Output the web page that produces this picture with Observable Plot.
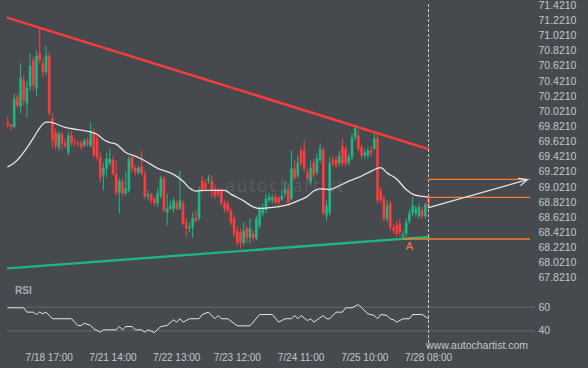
<!DOCTYPE html>
<html>
<head>
<meta charset="utf-8">
<script src="https://cdn.jsdelivr.net/npm/d3@7"></script>
<script src="https://cdn.jsdelivr.net/npm/@observablehq/plot@0.6"></script>
<style>
  html, body { margin: 0; padding: 0; background: #464a4f; }
  #wrap { position: relative; width: 588px; height: 368px; background: #464a4f; overflow: hidden;
          font-family: "Liberation Sans", Arial, sans-serif; }
  #price, #rsi { position: absolute; left: 0; }
  #price { top: 0; }
  #rsi { top: 290px; }
  .ov { position: absolute; white-space: nowrap; line-height: 12px; }
</style>
</head>
<body>
<div id="wrap">
  <div id="price"></div>
  <div id="rsi"></div>
  <div class="ov" style="left:15px;top:285px;font-size:10px;font-weight:bold;color:#a9acb0;">RSI</div>
  <div class="ov" style="left:426px;top:339px;font-size:10.5px;color:#c4c6c9;">www.autochartist.com</div>
</div>
<script>
// ---- data ----
const opens = [69.87,69.84,69.81,70.21,70.08,70.42,70.12,70.34,70.69,70.32,
70.78,70.65,70.53,70.75,69.92,69.74,69.54,69.72,69.60,69.47,
69.70,69.61,69.60,69.60,69.56,69.63,69.56,69.72,69.66,69.41,
69.17,69.26,69.33,69.37,69.19,68.94,69.08,68.93,68.97,69.41,
69.27,69.21,69.29,69.18,68.89,68.92,68.86,68.80,68.90,69.13,
68.68,68.73,68.73,68.81,68.73,68.80,68.55,68.47,68.48,68.61,
68.60,69.10,69.07,69.10,69.10,69.00,68.97,68.97,68.81,68.80,
68.71,68.60,68.44,68.42,68.28,68.47,68.35,68.40,68.34,68.51,
68.67,68.71,68.84,68.84,68.89,68.88,68.85,68.93,68.99,68.86,
69.26,69.17,69.50,69.50,69.21,69.08,69.34,69.21,69.37,69.50,
68.64,68.67,69.37,69.38,69.33,69.56,69.52,69.34,69.41,69.67,
69.70,69.54,69.43,69.43,69.50,69.52,69.66,68.97,68.86,68.60,
68.80,68.48,68.51,68.53,68.36,68.40,68.57,68.67,68.67,68.63,
68.71,68.63,68.88];
const closes = [69.84,69.81,70.18,70.09,70.46,70.16,70.33,70.62,70.36,70.75,
70.69,70.53,70.75,69.99,69.63,69.56,69.72,69.59,69.56,69.70,
69.60,69.60,69.59,69.54,69.63,69.58,69.74,69.43,69.41,69.14,
69.27,69.39,69.39,69.19,68.94,69.10,68.93,69.00,69.39,69.26,
69.21,69.27,69.19,68.89,68.92,68.84,68.80,68.93,69.13,68.71,
68.73,68.77,68.84,68.73,68.84,68.53,68.47,68.49,68.61,68.57,
68.97,68.97,69.00,69.13,68.97,68.90,68.93,68.81,68.73,68.71,
68.55,68.40,68.28,68.28,68.44,68.34,68.47,68.34,68.60,68.71,
68.75,68.86,68.89,68.88,68.81,68.81,68.90,68.99,68.81,69.26,
69.14,69.34,69.33,69.26,69.13,69.27,69.17,69.39,69.52,68.67,
68.77,69.33,69.33,69.30,69.43,69.33,69.33,69.41,69.67,69.79,
69.52,69.43,69.47,69.50,69.46,69.66,68.84,68.84,68.60,68.77,
68.48,68.44,68.40,68.42,68.39,68.55,68.67,68.77,68.73,68.75,
68.63,68.79,68.76];
const highs = [69.94,69.85,70.25,70.25,70.65,70.49,70.42,70.78,70.74,70.82,
71.12,70.72,70.88,70.79,69.99,69.79,69.76,69.75,69.66,69.74,
69.76,69.66,69.63,69.63,69.66,69.67,69.87,69.79,69.70,69.47,
69.34,69.47,69.52,69.43,69.37,69.14,69.13,69.23,69.43,69.43,
69.30,69.30,69.50,69.23,68.97,68.94,68.89,69.01,69.17,69.16,
68.93,68.84,68.88,68.84,69.23,68.84,68.60,68.55,68.68,68.71,
69.02,69.17,69.12,69.18,69.17,69.05,69.01,69.00,68.85,68.84,
68.75,68.64,68.50,68.47,68.55,68.51,68.60,68.44,68.64,68.77,
68.80,68.93,68.94,68.92,68.93,68.90,68.97,69.10,69.04,69.50,
69.37,69.43,69.56,69.63,69.26,69.37,69.39,69.46,69.59,69.54,
68.84,69.41,69.43,69.42,69.50,69.66,69.56,69.46,69.72,69.83,
69.76,69.58,69.52,69.55,69.56,69.74,69.72,69.02,68.90,68.84,
68.84,68.53,68.57,68.60,68.44,68.60,68.72,68.89,68.77,68.80,
68.76,68.81,68.89];
const lows = [69.80,69.76,69.79,70.05,69.99,70.09,69.93,70.29,70.29,70.22,
70.65,70.46,70.49,69.96,69.54,69.50,69.50,69.50,69.52,69.43,
69.56,69.55,69.55,69.51,69.54,69.55,69.54,69.41,69.37,69.08,
68.97,69.14,69.30,69.17,68.90,68.67,68.89,68.90,68.94,69.21,
69.17,69.18,69.17,68.86,68.84,68.80,68.76,68.75,68.86,68.68,
68.51,68.71,68.68,68.71,68.71,68.51,68.35,68.42,68.34,68.55,
68.57,68.94,68.97,69.06,68.88,68.86,68.89,68.77,68.68,68.67,
68.51,68.36,68.24,68.20,68.24,68.28,68.27,68.30,68.31,68.47,
68.63,68.67,68.81,68.80,68.79,68.77,68.83,68.89,68.77,68.84,
69.10,69.13,69.29,69.22,69.09,69.04,69.13,69.17,69.33,68.64,
68.57,68.64,69.29,69.26,69.29,69.29,69.29,69.30,69.37,69.63,
69.47,69.39,69.39,69.39,69.42,69.50,68.80,68.80,68.56,68.55,
68.44,68.40,68.36,68.36,68.34,68.36,68.53,68.63,68.63,68.60,
68.59,68.60,68.75];

// moving average (sampled along the bars)
const maBars = [0,2,6,8,12,13,18,22,26,28,30,32,34,37,40,43,47,52,55,57,59,62,65,68,70,74,77,79,82,88,91,94,96,98,101,104,107,110,113,117,119,122,125,127,130,132];
const maVals = [69.29,69.34,69.54,69.67,69.88,69.88,69.81,69.78,69.75,69.72,69.65,69.61,69.59,69.48,69.43,69.37,69.27,69.19,69.10,69.01,68.97,68.98,68.98,68.98,68.93,68.84,68.76,68.74,68.75,68.79,68.84,68.90,68.97,69.00,68.99,69.04,69.10,69.15,69.21,69.28,69.21,69.13,68.99,68.93,68.90,68.89];

// RSI
const rsiBars = [0,5,6,8,9,10,11,12,14,20,21,22,23,24,26,27,29,30,34,35,36,37,39,40,42,43,44,46,48,50,52,53,54,55,57,60,61,63,65,66,67,69,72,76,77,79,83,85,87,89,90,91,92,94,95,96,99,100,101,103,105,106,108,110,111,113,115,116,117,119,120,121,122,124,126,127,130,132];
const rsiVals = [59.5,59.5,55.8,55.8,53.8,55.8,54.4,55.8,50.2,50.2,47.3,44.5,44.5,46.4,44.5,41.7,38.8,40.8,40.8,43.6,40.8,43.6,43.6,40.8,40.8,38.8,40.8,38.6,43.6,44.5,49.3,47.3,50.2,47.3,50.2,50.2,53.8,55.8,50.2,53,50.2,50.2,44.2,44.2,47.3,53.8,53.8,47.3,50.2,50.2,53,50.2,53,48.7,50.2,47.3,53,50.2,50.2,55.8,55.8,59.5,59.5,62.3,59.5,54.4,53,50.2,53.8,53,50.2,49.3,47.3,50.2,50.2,53.8,53.8,50.2];

// pattern lines
const trendBars = [0, 132];
const resistanceVals = [71.257, 69.524];
const supportVals = [67.950, 68.364];
const levelVals = [69.125, 68.887, 68.337];
const levelStartBars = [132, 132, 124];
const levelEndBar = 164;
const forecastBars = [132, 163];
const forecastVals = [68.75, 69.12];
const pointLabel = {bar: 126, price: 68.24, text: "A"};
const currentBar = 132;
const watermark = {bar: 87, price: 69.04, text: "autochartist"};

// axes
const priceTicks = [71.421,71.221,71.021,70.821,70.621,70.421,70.221,70.021,69.821,69.621,69.421,69.221,69.021,68.821,68.621,68.421,68.221,68.021,67.821];
const rsiTicks = [60, 40];
const xTickBars = [13, 33, 53, 72, 92, 112, 132];
const xLabels = ["7/18 17:00","7/21 14:00","7/22 13:00","7/23 12:00","7/24 11:00","7/25 10:00","7/28 08:00"];

// ---- styles ----
const RED = "#ff3b3b", GREEN = "#1db882", ORANGE = "#f57f2e", WHITE = "#e4e4e4", TXT = "#c4c6c9";
const FONT = "'Liberation Sans', Arial, sans-serif";

const candles = opens.map((o, i) => ({i, o, c: closes[i], h: highs[i], l: lows[i]}));
const ups = candles.filter(d => d.c >= d.o);
const downs = candles.filter(d => d.c < d.o);
const ma = maBars.map((b, k) => ({b, v: maVals[k]}));
const rsi = rsiBars.map((b, k) => ({b, v: rsiVals[k]}));
const res = trendBars.map((b, k) => ({b, v: resistanceVals[k]}));
const sup = trendBars.map((b, k) => ({b, v: supportVals[k]}));
const levels = levelVals.map((v, k) => ({v, x1: levelStartBars[k], x2: levelEndBar}));
const fc = [{x1: forecastBars[0], y1: forecastVals[0], x2: forecastBars[1], y2: forecastVals[1]}];

const price = Plot.plot({
  width: 588, height: 290,
  marginTop: 4, marginBottom: 0, marginLeft: 7, marginRight: 51,
  x: {domain: [0, 132], range: [7.3, 428], axis: null},
  y: {domain: [67.821, 71.421], range: [277.6, 4.9]},
  style: {background: "transparent", color: TXT, fontSize: "10.5px", fontFamily: FONT, overflow: "visible"},
  marks: [
    Plot.text([watermark], {x: "bar", y: "price", text: "text", fill: "#575b60", fontSize: 18, fontFamily: "'Open Sans', sans-serif"}),
    Plot.ruleX(ups, {x: "i", y1: "l", y2: "h", stroke: GREEN, strokeWidth: 1}),
    Plot.ruleX(downs, {x: "i", y1: "l", y2: "h", stroke: RED, strokeWidth: 1}),
    Plot.ruleX(ups, {x: "i", y1: "o", y2: "c", stroke: GREEN, strokeWidth: 2.6}),
    Plot.ruleX(downs, {x: "i", y1: "o", y2: "c", stroke: RED, strokeWidth: 2.6}),
    Plot.line(ma, {x: "b", y: "v", stroke: WHITE, strokeWidth: 1.3, curve: "monotone-x"}),
    Plot.line(res, {x: "b", y: "v", stroke: RED, strokeWidth: 2.5}),
    Plot.line(sup, {x: "b", y: "v", stroke: GREEN, strokeWidth: 2.3}),
    Plot.ruleX([currentBar], {stroke: "#c8c8c8", strokeWidth: 1, strokeDasharray: "3,2"}),
    Plot.ruleY(levels, {y: "v", x1: "x1", x2: "x2", stroke: ORANGE, strokeWidth: 1.3}),
    Plot.arrow(fc, {x1: "x1", y1: "y1", x2: "x2", y2: "y2", stroke: WHITE, strokeWidth: 1.3, headLength: 10, headAngle: 50}),
    Plot.text([pointLabel], {x: "bar", y: "price", text: "text", fill: ORANGE, fontSize: 11}),
    Plot.axisY(priceTicks, {anchor: "right", label: null, tickSize: 0, tickPadding: 1, tickFormat: d => d.toFixed(4)})
  ]
});
// widen the watermark lettering
d3.select(price).selectAll("text").filter(function() { return this.textContent === watermark.text; })
  .attr("letter-spacing", "1.6px");
document.getElementById("price").append(price);

const rsiPlot = Plot.plot({
  width: 588, height: 78,
  marginTop: 0, marginBottom: 18, marginLeft: 7, marginRight: 53,
  x: {domain: [0, 132], range: [7.3, 428], label: null},
  y: {domain: [40, 60], range: [40.3, 16.7], label: null},
  style: {background: "transparent", color: TXT, fontSize: "10.5px", fontFamily: FONT, overflow: "visible"},
  marks: [
    Plot.gridY(rsiTicks, {stroke: "#62666b", strokeOpacity: 1}),
    Plot.line(rsi, {x: "b", y: "v", stroke: WHITE, strokeWidth: 1}),
    Plot.ruleX([currentBar], {stroke: "#c8c8c8", strokeWidth: 1, strokeDasharray: "3,2"}),
    Plot.axisY(rsiTicks, {anchor: "right", label: null, tickSize: 0, tickPadding: 3}),
    Plot.axisX(xTickBars, {anchor: "bottom", label: null, tickSize: 0, tickPadding: 3, fontSize: 10,
      tickFormat: d => xLabels[xTickBars.indexOf(d)]})
  ]
});
document.getElementById("rsi").append(rsiPlot);
</script>
</body>
</html>
